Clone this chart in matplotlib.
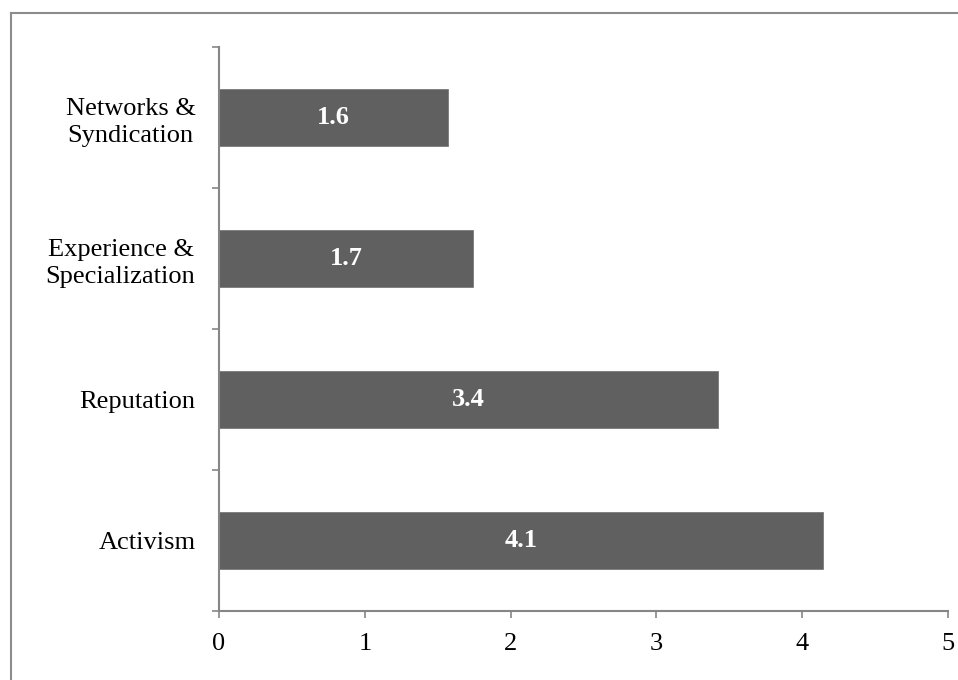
import matplotlib
matplotlib.use("Agg")
import matplotlib.pyplot as plt
from matplotlib.lines import Line2D

categories = ["Activism", "Reputation", "Experience &\nSpecialization", "Networks &\nSyndication"]
values = [4.14, 3.42, 1.74, 1.57]
x_ticks = [0, 1, 2, 3, 4, 5]

W, H = 958, 680
fig = plt.figure(figsize=(W / 100, H / 100), dpi=100)
ax = fig.add_axes([219 / W, 1 - 611 / H, (948 - 219) / W, (611 - 47) / H])

serif = ["Liberation Serif", "DejaVu Serif"]
axis_col = "#868686"
bar_col = "#606060"
fs = 19

ypos = list(range(len(categories)))
bars = ax.barh(ypos, values, height=0.4, color=bar_col, edgecolor="#7a7a7a", linewidth=0.6)
for y, v in zip(ypos, values):
    ax.text(v / 2, y, f"{v:.1f}", ha="center", va="center", color="white",
            fontsize=fs, fontweight="bold", family=serif)

ax.set_xlim(0, 5)
ax.set_ylim(-0.5, len(categories) - 0.5)
ax.set_xticks(x_ticks)
ax.set_xticklabels([str(t) for t in x_ticks], family=serif, fontsize=fs)
ax.set_yticks(ypos)
ax.set_yticklabels(categories, family=serif, fontsize=fs, multialignment="center", linespacing=1.3)
ax.set_yticks([i - 0.5 for i in range(len(categories) + 1)], minor=True)
ax.tick_params(axis="y", which="major", length=0, pad=17)
ax.tick_params(axis="y", which="minor", length=5, width=1.2, color=axis_col, direction="out")
ax.tick_params(axis="x", which="major", length=5, width=1.2, color=axis_col, direction="out", pad=11)

for s in ["top", "right"]:
    ax.spines[s].set_visible(False)
for s in ["left", "bottom"]:
    ax.spines[s].set_color(axis_col)
    ax.spines[s].set_linewidth(1.5)

# outer frame
fig.add_artist(Line2D([10.5 / W, 1], [1 - 12.5 / H, 1 - 12.5 / H], transform=fig.transFigure,
                      color="#8c8c8c", linewidth=1.5))
fig.add_artist(Line2D([10.5 / W, 10.5 / W], [0, 1 - 12.5 / H], transform=fig.transFigure,
                      color="#8c8c8c", linewidth=1.5))

fig.savefig("out.png", dpi=100)
